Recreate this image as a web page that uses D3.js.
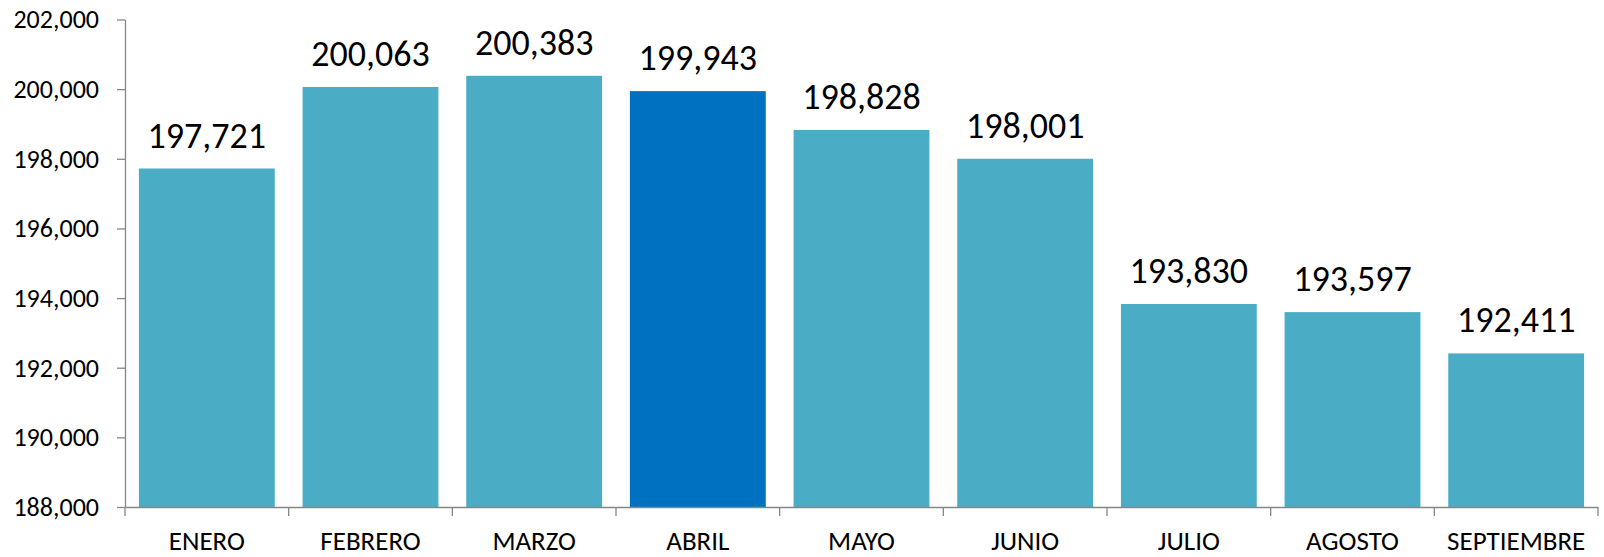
<!DOCTYPE html>
<html lang="es">
<head>
    <meta charset="UTF-8">
    <title>Total mensual</title>
    <script src="https://d3js.org/d3.v7.min.js"></script>
    <style>
        body{
            margin: 0;
            background: #fff;
        }
        svg text{
            font-family: Calibri, Carlito, Lato, sans-serif;
            fill: #000;
        }
        .axis path, .axis line{
            stroke: #868686;
            stroke-width: 1.3;
        }
    </style>
</head>
<body>
<script>

    // data
    const months = ["ENERO","FEBRERO","MARZO","ABRIL","MAYO","JUNIO","JULIO","AGOSTO","SEPTIEMBRE"]
    const values = [197721, 200063, 200383, 199943, 198828, 198001, 193830, 193597, 192411]
    const yTicks = [188000, 190000, 192000, 194000, 196000, 198000, 200000, 202000]
    const highlight = "ABRIL"

    const svgSize = {width: 1604, height: 557}
    const margins = {top: 19.5, right: 6, bottom: 50, left: 125}

    const svg = d3.select("body")
        .append("svg")
        .attr("width", svgSize.width)
        .attr("height", svgSize.height)

    const x = d3.scaleBand()
        .domain(months)
        .range([margins.left, svgSize.width - margins.right])
        .paddingInner(0.17)
        .paddingOuter(0.085)

    const y = d3.scaleLinear()
        .domain([yTicks[0], yTicks[yTicks.length - 1]])
        .range([svgSize.height - margins.bottom, margins.top])

    const data = months.map((m, i) => ({month: m, value: values[i]}))

    // bars
    svg.selectAll(".bar")
        .data(data)
        .enter()
        .append("rect")
        .attr("class", "bar")
        .attr("x", d => x(d.month))
        .attr("width", x.bandwidth())
        .attr("y", d => y(d.value))
        .attr("height", d => y.range()[0] - y(d.value))
        .attr("fill", d => d.month === highlight ? "#0070C0" : "#4BACC6")

    // value labels
    svg.selectAll(".val")
        .data(data)
        .enter()
        .append("text")
        .attr("class", "val")
        .attr("x", d => x(d.month) + x.bandwidth() / 2)
        .attr("y", d => y(d.value) - 21)
        .attr("text-anchor", "middle")
        .style("font-size", "36px")
        .text(d => d3.format(",")(d.value))

    // y axis
    const yAxis = svg.append("g")
        .attr("class", "axis")
        .attr("transform", `translate(${margins.left},0)`)
        .call(d3.axisLeft(y)
            .tickValues(yTicks)
            .tickSize(8)
            .tickSizeOuter(0)
            .tickPadding(18)
            .tickFormat(d3.format(",")))
    yAxis.selectAll("text").style("font-size", "26px")

    // x axis: labels centred, ticks on the category boundaries
    const baseY = y.range()[0]
    const xAxis = svg.append("g")
        .attr("class", "axis")
        .attr("transform", `translate(0,${baseY})`)
        .call(d3.axisBottom(x).tickSize(0).tickSizeOuter(0))
    xAxis.selectAll(".tick line").remove()
    xAxis.selectAll("text")
        .attr("y", 43)
        .attr("dy", 0)
        .style("font-size", "27px")

    const step = x.step()
    const bounds = months.map(m => x(m) - step * x.paddingInner() / 2)
    bounds.push(x.range()[1])
    xAxis.selectAll(".bound")
        .data(bounds)
        .enter()
        .append("line")
        .attr("class", "bound")
        .attr("x1", d => d)
        .attr("x2", d => d)
        .attr("y1", 0)
        .attr("y2", 9)

</script>
</body>
</html>
